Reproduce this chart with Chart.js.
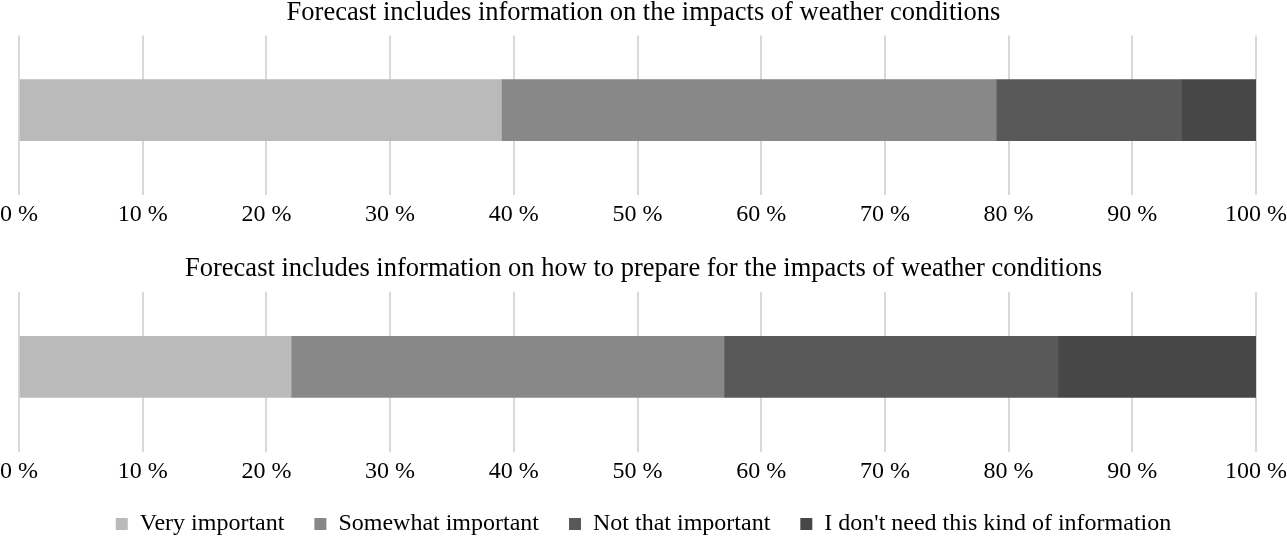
<!DOCTYPE html>
<html>
<head>
<meta charset="utf-8">
<script src="https://cdn.jsdelivr.net/npm/chart.js@4/dist/chart.umd.min.js"></script>
<style>
  body { margin: 0; background: #fff; }
  .wrap { position: absolute; left: 0; width: 1287px; }
</style>
</head>
<body>
<div class="wrap" style="top:0;height:240px"><canvas id="chartImpacts"></canvas></div>
<div class="wrap" style="top:240px;height:298px"><canvas id="chartPrepare"></canvas></div>
<script>
const categories = ['Very important', 'Somewhat important', 'Not that important', "I don't need this kind of information"];
const impactsValues = [39, 40, 15, 6];
const prepareValues = [22, 35, 27, 16];
const tickLabels = ['0 %', '10 %', '20 %', '30 %', '40 %', '50 %', '60 %', '70 %', '80 %', '90 %', '100 %'];
const colors = ['#bababa', '#888888', '#595959', '#474747'];

const serif = "'Liberation Serif', 'Times New Roman', serif";

function makeChart(id, title, values, showLegend) {
    const ctx = document.getElementById(id).getContext('2d');
    return new Chart(ctx, {
        type: 'bar',
        data: {
            datasets: categories.map((c, i) => ({
                label: c,
                data: [{ x: values[i], y: 0 }],
                backgroundColor: colors[i],
                borderWidth: 0,
                barThickness: 61
            }))
        },
        options: {
            indexAxis: 'y',
            responsive: true,
            maintainAspectRatio: false,
            animation: false,
            layout: {
                padding: { top: 0, bottom: showLegend ? 0 : 15, left: 0, right: 0 }
            },
            scales: {
                x: {
                    stacked: true,
                    min: 0,
                    max: 100,
                    border: { display: false },
                    // transparent tick marks push the labels down without widening the sides
                    grid: { color: '#d9d9d9', lineWidth: 2, drawTicks: true, tickLength: 10, tickColor: 'rgba(0,0,0,0)' },
                    ticks: {
                        stepSize: 10,
                        padding: 0,
                        color: '#000',
                        font: { family: serif, size: 24, lineHeight: 0.8334 },
                        callback: (v, i) => tickLabels[i]
                    }
                },
                y: {
                    type: 'linear',
                    stacked: true,
                    display: false,
                    min: -0.538,
                    max: 0.462
                }
            },
            plugins: {
                title: {
                    display: true,
                    text: title,
                    color: '#000',
                    font: { family: serif, size: 26.5, weight: 'normal', lineHeight: 1 },
                    padding: showLegend ? { top: 16, bottom: 9.5 } : { top: 0, bottom: 9 }
                },
                legend: {
                    display: showLegend,
                    position: 'bottom',
                    maxHeight: 56,
                    labels: {
                        color: '#000',
                        boxWidth: 12,
                        boxHeight: 12,
                        padding: 30,
                        font: { family: serif, size: 24 }
                    }
                },
                tooltip: { enabled: false }
            }
        }
    });
}

makeChart('chartImpacts', 'Forecast includes information on the impacts of weather conditions', impactsValues, false);
makeChart('chartPrepare', 'Forecast includes information on how to prepare for the impacts of weather conditions', prepareValues, true);
</script>
</body>
</html>
